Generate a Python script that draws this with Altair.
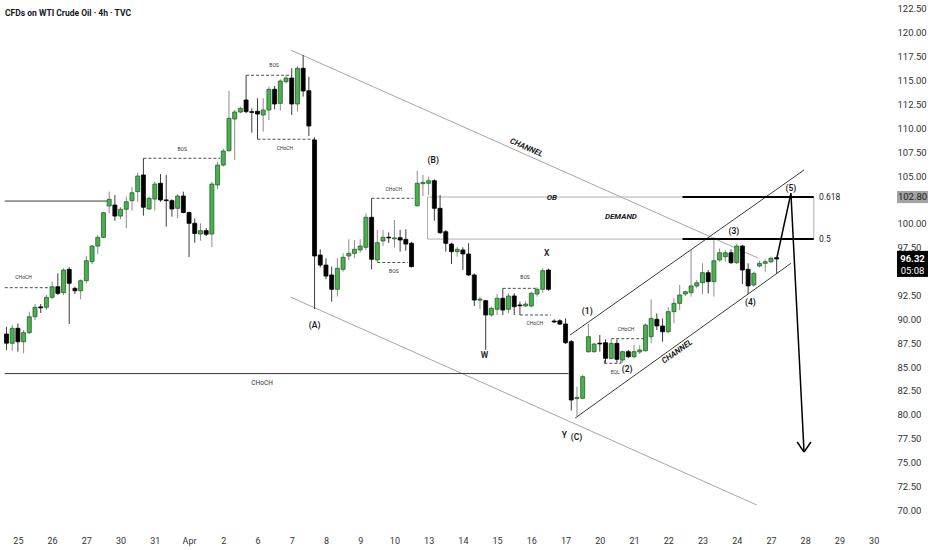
import json
import altair as alt
import pandas as pd

# ---------------------------------------------------------------------------
# WTI crude oil CFD, 4h candles (oldest -> newest)
# ---------------------------------------------------------------------------
opens = [88.46, 87.49, 89.06, 87.65, 88.60, 90.27, 91.30, 91.26, 92.30, 93.41,
         92.79, 95.23, 93.24, 92.99, 94.04, 96.03, 97.67, 98.58, 101.86, 101.97,
         100.81, 101.52, 102.42, 103.36, 105.11, 101.55, 102.59, 104.24, 102.50, 102.42,
         101.62, 102.91, 101.18, 100.05, 98.93, 99.28, 98.93, 104.06, 106.15, 107.65,
         110.97, 111.70, 112.96, 111.74, 111.78, 111.39, 111.91, 114.08, 112.61, 114.88,
         115.26, 112.54, 116.28, 113.93, 108.77, 96.73, 95.68, 94.64, 93.14, 95.23,
         96.63, 96.91, 97.26, 97.54, 100.68, 96.21, 98.20, 98.60, 98.42, 98.54,
         98.37, 97.96, 101.89, 104.20, 104.24, 104.51, 101.62, 99.17, 97.88, 97.08,
         97.26, 96.84, 94.64, 92.00, 91.95, 90.45, 91.05, 92.20, 91.05, 92.44,
         91.50, 91.39, 91.39, 92.65, 93.14, 95.16, 89.82, 89.85, 89.51, 87.66,
         81.70, 81.73, 86.61, 86.61, 87.50, 87.55, 85.91, 87.48, 85.74, 86.61,
         86.08, 86.58, 86.71, 88.18, 90.00, 89.30, 88.70, 90.80, 91.67, 92.65,
         92.79, 93.49, 93.83, 94.88, 93.94, 96.21, 96.55, 96.97, 95.93, 97.67,
         95.23, 93.59, 95.58, 95.86, 96.03, 96.45]
highs = [89.20, 89.40, 89.58, 88.88, 90.80, 91.60, 91.60, 92.54, 93.94, 94.81,
         95.34, 95.44, 93.41, 94.19, 96.63, 97.78, 98.83, 101.23, 103.36, 103.01,
         101.73, 102.84, 103.85, 105.35, 106.86, 102.84, 104.41, 105.21, 105.11, 102.56,
         103.12, 103.36, 101.27, 100.57, 100.05, 99.56, 104.41, 106.50, 107.86, 113.93,
         111.91, 112.26, 115.55, 112.09, 113.14, 113.14, 114.35, 114.43, 115.13, 115.58,
         116.28, 116.52, 117.67, 115.40, 109.05, 97.33, 96.39, 95.51, 96.39, 96.91,
         98.38, 98.30, 98.38, 101.10, 102.67, 99.35, 99.35, 99.10, 100.40, 99.35,
         99.42, 98.12, 105.56, 105.11, 104.93, 104.66, 103.01, 99.35, 98.02, 97.54,
         97.54, 97.96, 94.81, 92.37, 92.02, 91.32, 92.65, 93.24, 92.72, 92.72,
         91.84, 91.90, 92.89, 93.35, 95.34, 95.30, 90.00, 90.00, 90.10, 87.83,
         82.94, 84.17, 89.51, 87.55, 88.36, 87.90, 88.01, 87.90, 86.71, 86.79,
         87.31, 87.31, 89.58, 92.09, 90.62, 90.10, 91.26, 92.19, 93.59, 93.00,
         97.26, 94.11, 95.86, 95.16, 98.58, 97.43, 97.26, 97.33, 97.88, 97.78,
         95.86, 94.98, 96.13, 96.28, 96.55, 96.52]
lows = [86.80, 86.71, 86.61, 86.44, 88.46, 89.93, 90.66, 90.97, 92.09, 92.54,
        92.54, 89.51, 92.65, 92.09, 93.77, 95.79, 96.84, 98.51, 101.10, 100.32,
        100.47, 99.53, 101.37, 102.31, 100.85, 101.44, 101.37, 102.31, 99.69, 100.74,
        100.57, 101.10, 96.52, 98.02, 98.23, 98.72, 97.57, 103.61, 105.98, 107.55,
        106.68, 111.57, 111.57, 109.54, 108.85, 109.64, 110.87, 111.99, 111.84, 114.71,
        111.39, 111.74, 113.31, 109.19, 91.08, 95.44, 94.19, 91.84, 92.39, 94.98,
        96.21, 96.39, 96.97, 97.26, 95.23, 95.93, 97.67, 98.00, 97.50, 97.08,
        97.18, 95.44, 101.79, 102.91, 103.01, 100.32, 98.93, 97.08, 95.79, 96.55,
        95.16, 94.53, 91.39, 91.05, 86.79, 90.27, 90.45, 90.45, 90.63, 90.45,
        90.45, 91.30, 91.25, 92.37, 92.79, 93.00, 89.60, 89.40, 87.41, 80.45,
        79.87, 81.62, 86.50, 86.50, 86.61, 85.45, 85.81, 85.45, 85.45, 85.95,
        85.91, 86.37, 86.61, 87.48, 88.88, 87.65, 88.53, 89.58, 90.97, 92.44,
        92.37, 93.24, 92.65, 92.72, 92.37, 96.03, 96.03, 95.79, 95.79, 93.69,
        92.65, 93.41, 95.44, 94.98, 95.86, 94.74]
closes = [87.50, 89.06, 87.65, 88.60, 90.27, 91.26, 91.20, 92.30, 93.41, 92.72,
          95.16, 93.77, 92.99, 94.04, 96.13, 97.67, 98.58, 101.16, 102.56, 100.81,
          101.52, 102.31, 103.25, 105.00, 101.73, 102.67, 104.16, 102.49, 102.42, 101.55,
          102.91, 101.18, 100.05, 98.98, 99.28, 98.90, 104.16, 106.15, 107.62, 111.04,
          111.70, 112.09, 111.74, 111.66, 111.49, 111.91, 114.08, 112.54, 114.95, 115.26,
          112.54, 116.28, 113.90, 110.24, 96.63, 95.68, 94.53, 93.14, 95.34, 96.49,
          96.91, 97.33, 97.67, 100.68, 96.28, 98.02, 98.58, 98.52, 98.52, 98.30,
          97.88, 95.51, 104.24, 104.33, 104.51, 101.62, 99.07, 97.96, 97.08, 97.33,
          96.84, 94.64, 92.02, 92.12, 90.45, 91.15, 92.20, 90.97, 92.44, 91.32,
          91.42, 91.60, 92.72, 93.14, 95.09, 93.14, 89.72, 89.50, 87.55, 81.55,
          81.82, 83.99, 88.18, 87.41, 87.42, 85.91, 87.48, 85.81, 86.61, 86.08,
          86.61, 86.79, 89.40, 90.10, 89.30, 88.70, 90.80, 91.67, 92.54, 92.89,
          93.49, 93.83, 94.88, 93.94, 96.13, 96.97, 96.97, 95.93, 97.67, 95.16,
          93.49, 94.81, 95.86, 96.03, 96.39, 96.32]

# session labels on the time axis (a session spans six 4h bars)
day_labels = ["25", "26", "27", "30", "31", "Apr", "2", "6", "7", "8", "9", "10",
              "13", "14", "15", "16", "17", "20", "21", "22", "23", "24", "27",
              "28", "29", "30"]
first_session_bar = 2
bars_per_session = 6
day_ticks = [first_session_bar + bars_per_session * k for k in range(len(day_labels))]

# price scale labels (95.00 and 102.50 sit under the price tags)
price_ticks = [70.0, 72.5, 75.0, 77.5, 80.0, 82.5, 85.0, 87.5, 90.0, 92.5, 97.5,
               100.0, 105.0, 107.5, 110.0, 112.5, 115.0, 117.5, 120.0, 122.5]

last_price = 96.32
countdown = "05:08"
ob_top = 102.80
ob_bottom = 98.40

# ---------------------------------------------------------------------------
# drawings (bar index, price)
# ---------------------------------------------------------------------------
# descending channel (grey)
desc_channel = [(49.8, 118.2, 131.8, 96.4), (49.8, 92.33, 131.5, 70.56)]
# order block / demand zone outline (grey)
ob_lines = [(73.8, ob_top, 119.3, ob_top), (73.8, ob_bottom, 119.3, ob_bottom),
            (73.8, ob_top, 73.8, ob_bottom), (141.5, ob_top, 141.5, ob_bottom)]
# dark solid lines: ascending channel and horizontal levels
dark_lines = [(98.8, 88.36, 139.8, 105.63), (99.7, 79.67, 137.5, 95.86),
              (-0.3, 102.38, 17.9, 102.38), (-0.3, 84.32, 98.5, 84.32)]
# structure breaks (dashed)
struct_lines = [(-0.3, 93.31, 8.1, 93.31), (24, 106.86, 37.5, 106.86),
                (42, 115.55, 50, 115.55), (44, 108.85, 54, 108.85),
                (64, 102.67, 71.3, 102.67), (65, 95.95, 70.4, 95.95),
                (87, 93.24, 92.8, 93.24), (90, 90.45, 95.4, 90.45),
                (106, 87.97, 111.7, 87.97), (104.8, 85.39, 107.7, 85.39),
                (104.8, 85.39, 104.8, 85.74), (107.7, 85.39, 107.7, 85.74)]
# fibonacci levels (thick black)
fib_lines = [(118.5, ob_top, 141.5, ob_top), (118.5, ob_bottom, 141.5, ob_bottom)]
# projected path and arrow head
path_lines = [(135, last_price, 137.5, 103.2), (137.5, 103.2, 139.8, 76.1),
              (138.6, 77.15, 139.8, 76.1), (141.0, 77.15, 139.8, 76.1)]

small_notes = [(3.0, 94.43, "CHoCH"), (30.8, 107.83, "BOS"), (46.9, 116.6, "BOS"),
               (48.8, 107.93, "CHoCH"), (67.9, 103.64, "CHoCH"), (67.9, 95.06, "BOS"),
               (90.9, 94.43, "BOS"), (92.6, 89.61, "CHoCH"), (108.6, 88.98, "CHoCH"),
               (106.7, 84.48, "EQL")]
big_note = [(44.8, 83.33, "CHoCH")]
wave_notes = [(54.0, 89.40, "(A)"), (74.8, 106.68, "(B)"), (94.7, 96.94, "X"),
              (83.8, 86.26, "W"), (97.8, 77.89, "Y"), (99.9, 77.68, "(C)"),
              (101.8, 90.87, "(1)"), (108.8, 84.80, "(2)"), (127.5, 99.24, "(3)"),
              (130.4, 91.81, "(4)"), (137.5, 103.75, "(5)")]
zone_notes = [(95.6, ob_top - 0.1, "OB"), (107.7, 100.7, "DEMAND")]
fib_notes = [(142.4, ob_top, "0.618"), (142.4, ob_bottom, "0.5")]
channel_down = [(91.1, 107.93, "CHANNEL")]
channel_up = [(117.6, 86.58, "CHANNEL")]

title_text = "CFDs on WTI Crude Oil \u00b7 4h \u00b7 TVC"

# ---------------------------------------------------------------------------
candles = pd.DataFrame({"i": list(range(len(opens))), "o": opens, "h": highs,
                        "l": lows, "c": closes})
candles["dir"] = ["up" if c >= o else "down" for o, c in zip(opens, closes)]


def seg_df(rows):
    return pd.DataFrame(rows, columns=["i", "p", "i2", "p2"])


def note_df(rows):
    return pd.DataFrame(rows, columns=["i", "p", "t"])


FONT = "Roboto"
xs = alt.Scale(domain=[-0.26, 153.64], nice=False, zero=False)
ys = alt.Scale(domain=[68.15, 123.43], nice=False, zero=False)

label_expr = json.dumps(day_labels).replace('"', "'") + \
    f"[round((datum.value - {first_session_bar}) / {bars_per_session})]"
x_axis = alt.Axis(values=day_ticks, labelExpr=label_expr, title=None, grid=False,
                  ticks=False, domain=False, labelFontSize=9, labelColor="#333333",
                  labelFont=FONT, labelPadding=8, labelOverlap=False, labelFlush=False)
y_axis = alt.Axis(orient="right", values=price_ticks, format=".2f", title=None,
                  grid=False, ticks=False, domain=False, labelAlign="left",
                  labelBaseline="middle", labelPadding=9, labelFontSize=9.5,
                  labelColor="#333333", labelFont=FONT)


def X(field):
    return alt.X(field, type="quantitative", scale=xs, axis=x_axis)


def Y(field):
    return alt.Y(field, type="quantitative", scale=ys, axis=y_axis)


dir_dom = ["up", "down"]

wicks = alt.Chart(candles).mark_rule(strokeWidth=1).encode(
    x=X("i"), y=Y("l"), y2="h",
    color=alt.Color("dir:N", scale=alt.Scale(domain=dir_dom, range=["#8c8c8c", "#3c3c3c"]),
                    legend=None))

bodies = alt.Chart(candles).mark_bar(size=4, strokeWidth=0.8).encode(
    x=X("i"), y=Y("o"), y2="c",
    fill=alt.Fill("dir:N", scale=alt.Scale(domain=dir_dom, range=["#4caf50", "#000000"]),
                  legend=None),
    stroke=alt.Stroke("dir:N", scale=alt.Scale(domain=dir_dom, range=["#22622a", "#000000"]),
                      legend=None))


def segments(rows, color, width, dash=None):
    kw = dict(color=color, strokeWidth=width)
    if dash:
        kw["strokeDash"] = dash
    return alt.Chart(seg_df(rows)).mark_rule(**kw).encode(
        x=X("i"), y=Y("p"), x2="i2", y2="p2")


def notes(rows, size, weight="normal", style="normal", color="#1a1a1a", angle=0,
          align="center"):
    kw = dict(fontSize=size, fontWeight=weight, fontStyle=style, color=color,
              font=FONT, align=align, baseline="middle")
    if angle:
        kw["angle"] = angle
    return alt.Chart(note_df(rows)).mark_text(**kw).encode(
        x=X("i"), y=Y("p"), text="t:N")


layers = [
    segments(desc_channel, "#a6a6a6", 1),
    segments(ob_lines, "#b0b0b0", 1),
    segments(dark_lines, "#3a3a3a", 1),
    segments(struct_lines, "#3a3a3a", 0.9, [3, 2]),
    wicks,
    bodies,
    segments(fib_lines, "#000000", 2),
    segments(path_lines, "#000000", 1.5),
    notes(small_notes, 5, color="#333333"),
    notes(big_note, 6.5, color="#333333"),
    notes(wave_notes, 8.5, weight=600),
    notes(zone_notes, 8, weight="bold", style="italic"),
    notes(fib_notes, 8.5, align="left", color="#222222"),
    notes(channel_down, 8, weight="bold", style="italic", angle=24),
    notes(channel_up, 8, weight="bold", style="italic", angle=325),
]

# price tags on the right-hand scale
tag_gray = pd.DataFrame({"p": [ob_top], "t": [f"{ob_top:.2f}"]})
tag_last = pd.DataFrame({"p": [last_price], "t": [f"{last_price:.2f}"],
                         "t2": [countdown]})
gray_box = alt.Chart(tag_gray).mark_point(
    shape="M-1,-0.39L1,-0.39L1,0.39L-1,0.39Z", size=961, filled=True,
    color="#a3a3a3", opacity=1, strokeWidth=0).encode(x=alt.value(912.5), y=Y("p"))
gray_txt = alt.Chart(tag_gray).mark_text(
    fontSize=9.5, font=FONT, color="#1a1a1a", baseline="middle").encode(
    x=alt.value(912.5), y=Y("p"), text="t:N")
last_box = alt.Chart(tag_last).mark_point(
    shape="M-1,-0.52L1,-0.52L1,1.16L-1,1.16Z", size=961, filled=True,
    color="#000000", opacity=1, strokeWidth=0).encode(x=alt.value(912.5), y=Y("p"))
last_txt = alt.Chart(tag_last).mark_text(
    fontSize=9.5, font=FONT, fontWeight="bold", color="#ffffff", baseline="middle").encode(
    x=alt.value(912.5), y=Y("p"), text="t:N")
last_cd = alt.Chart(tag_last).mark_text(
    fontSize=9.5, font=FONT, color="#ffffff", baseline="middle", dy=12).encode(
    x=alt.value(912.5), y=Y("p"), text="t2:N")

title = alt.Chart(pd.DataFrame({"t": [title_text]})).mark_text(
    fontSize=8.5, font=FONT, fontWeight="bold", color="#131722", align="left",
    baseline="middle").encode(x=alt.value(5), y=alt.value(13), text="t:N")

chart = alt.layer(*layers, gray_box, gray_txt, last_box, last_txt, last_cd, title).properties(
    width=888, height=528,
    autosize=alt.AutoSizeParams(type="none"),
    padding={"left": 0, "top": 0, "right": 44, "bottom": 22},
    background="#ffffff",
).configure_view(stroke=None)

chart.save("out.html", embed_options={"renderer": "svg", "actions": False})
